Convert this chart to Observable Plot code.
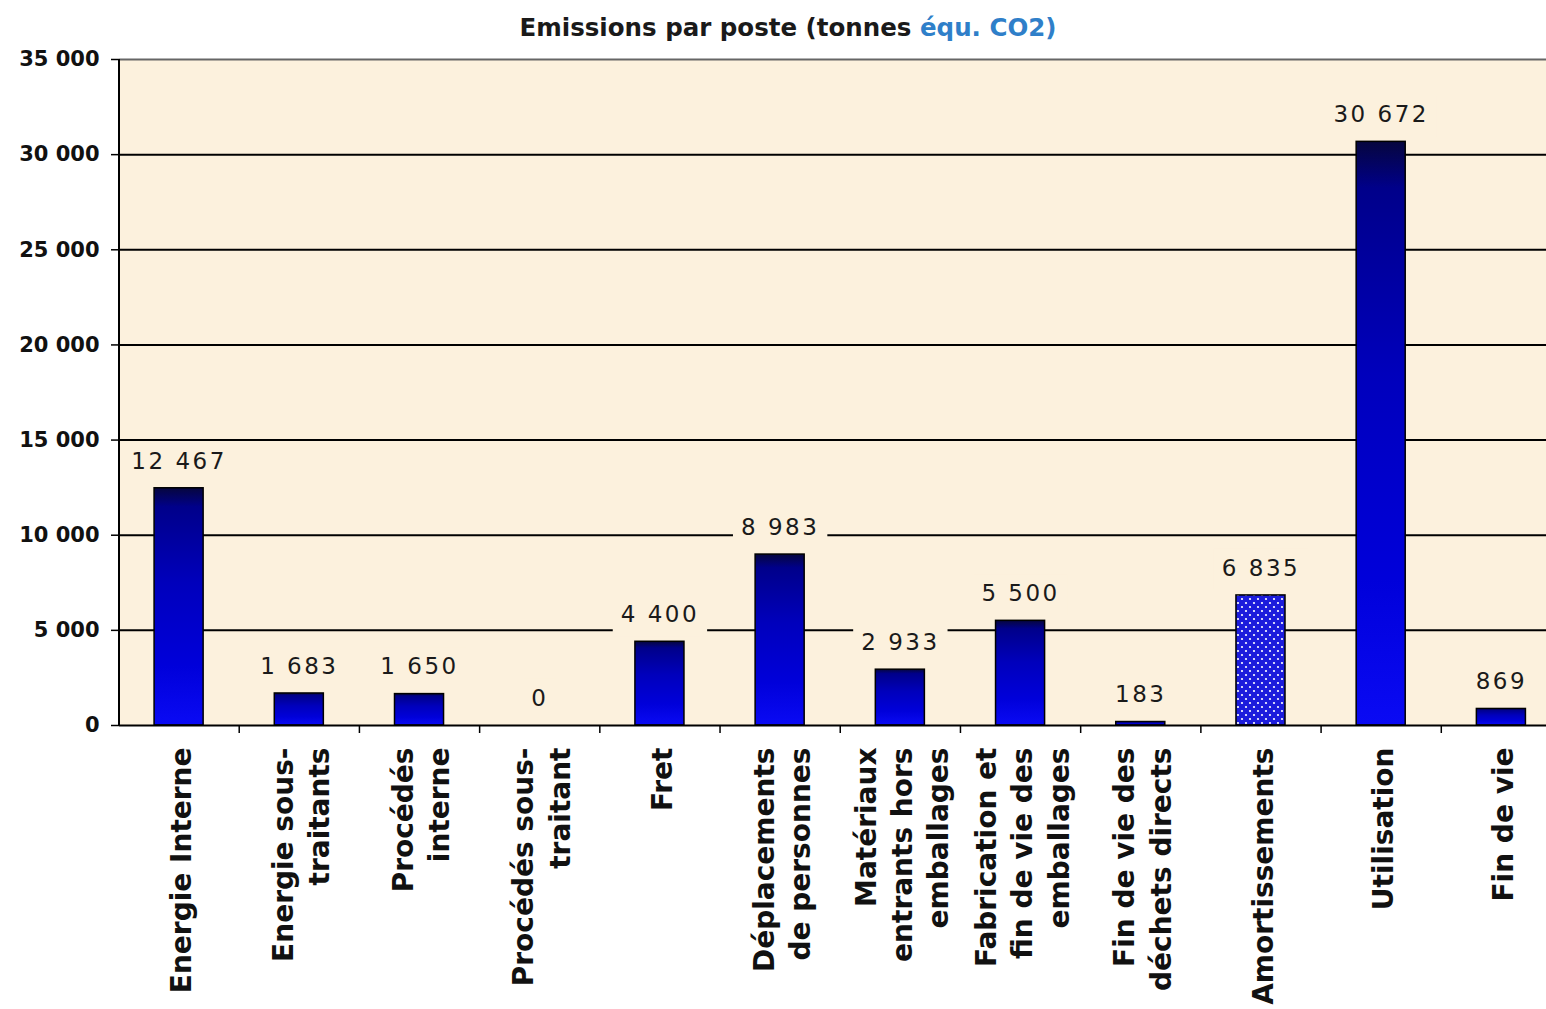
<!DOCTYPE html>
<html>
<head>
<meta charset="utf-8">
<script src="https://cdn.jsdelivr.net/npm/d3@7"></script>
<script src="https://cdn.jsdelivr.net/npm/@observablehq/plot@0.6"></script>
<style>
  html, body { margin: 0; padding: 0; background: #fff; }
  #title { position: relative; height: 45px; width: 1576px; text-align: center;
           font-family: "DejaVu Sans", sans-serif; font-weight: bold; font-size: 24.5px;
           line-height: 56px; color: #1a1a1a; white-space: nowrap; }
  #title .hl { color: #2f7fc9; }
  #chart svg g.value-labels text { letter-spacing: 2.5px; }
</style>
</head>
<body>
<div id="title">Emissions par poste (tonnes <span class="hl">équ. CO2)</span></div>
<div id="chart"></div>
<script>
// ---- data ----
const categories = [
  "Energie Interne",
  "Energie sous-\ntraitants",
  "Procédés\ninterne",
  "Procédés sous-\ntraitant",
  "Fret",
  "Déplacements\nde personnes",
  "Matériaux\nentrants hors\nemballages",
  "Fabrication et\nfin de vie des\nemballages",
  "Fin de vie des\ndéchets directs",
  "Amortissements",
  "Utilisation",
  "Fin de vie"
];
const values = [12467, 1683, 1650, 0, 4400, 8983, 2933, 5500, 183, 6835, 30672, 869];
const patternedCategories = ["Amortissements"];
const yTicks = [0, 5000, 10000, 15000, 20000, 25000, 30000, 35000];

const rows = categories.map((c, i) => ({i, cat: c, value: values[i]}));
const fmt = v => d3.format(",")(v).replace(/,/g, " ");
const centers = d3.range(categories.length).map(i => i + 0.5);
const bounds = d3.range(1, categories.length + 1);
const isPatterned = d => patternedCategories.includes(d.cat.replace(/\n/g, " "));

const bg = "#fcf1dd";
const inset = 0.296;

const plot = Plot.plot({
  width: 1546,
  height: 964,
  marginTop: 14,
  marginBottom: 284,
  marginLeft: 119,
  marginRight: 0,
  style: {fontFamily: "DejaVu Sans, sans-serif", background: "transparent", overflow: "visible"},
  x: {type: "linear", domain: [0, categories.length], range: [118.5, 1561], label: null},
  y: {domain: [0, 35000], label: null},
  marks: [
    Plot.frame({fill: bg, stroke: null}),
    Plot.ruleY(yTicks.filter(v => v > 0 && v < 35000), {stroke: "#000", strokeWidth: 2}),
    Plot.ruleY([35000], {stroke: "#666", strokeWidth: 2}),
    Plot.rectY(rows.filter(d => !isPatterned(d)), {
      x1: d => d.i + inset, x2: d => d.i + 1 - inset, y1: 0, y2: "value",
      fill: "url(#barGrad)", stroke: "#000", strokeWidth: 1.5
    }),
    Plot.rectY(rows.filter(isPatterned), {
      x1: d => d.i + inset, x2: d => d.i + 1 - inset, y1: 0, y2: "value",
      fill: "url(#dots)", stroke: "#000", strokeWidth: 1.5
    }),
    Plot.text(rows, {
      x: d => d.i + 0.5, y: "value", text: d => fmt(d.value), dy: -27,
      fontSize: 23, fill: "#1a1a1a", className: "value-labels"
    }),
    Plot.ruleX([0], {stroke: "#000", strokeWidth: 2}),
    Plot.ruleY([0], {stroke: "#000", strokeWidth: 2}),
    Plot.axisY(yTicks, {
      label: null, tickSize: 8, tickPadding: 12, tickFormat: fmt,
      fontSize: 21, fontWeight: "bold", fill: "#111", strokeWidth: 1.5, stroke: "#000"
    }),
    Plot.axisX(bounds, {label: null, tickSize: 8, tickFormat: () => "", stroke: "#000", strokeWidth: 1.5}),
    Plot.axisX(centers, {
      label: null, tickSize: 0, tickPadding: 22, tickRotate: -90,
      tickFormat: d => categories[Math.floor(d)],
      fontSize: 28, fontWeight: "bold", fill: "#111", lineHeight: 1.3
    })
  ]
});

// gradient + dotted pattern definitions
const NS = "http://www.w3.org/2000/svg";
const mk = (tag, attrs) => { const e = document.createElementNS(NS, tag); for (const k in attrs) e.setAttribute(k, attrs[k]); return e; };
const defs = mk("defs", {});
const grad = mk("linearGradient", {id: "barGrad", x1: 0, y1: 0, x2: 0, y2: 1});
[["0%", "#06063e"], ["8%", "#00008a"], ["40%", "#0000bc"], ["75%", "#0000da"], ["100%", "#0a0af4"]]
  .forEach(([o, c]) => grad.appendChild(mk("stop", {offset: o, "stop-color": c})));
defs.appendChild(grad);
const pat = mk("pattern", {id: "dots", width: 8, height: 8, patternUnits: "userSpaceOnUse"});
pat.appendChild(mk("rect", {x: 0, y: 0, width: 8, height: 8, fill: "#1c1cdc"}));
pat.appendChild(mk("circle", {cx: 2, cy: 2, r: 1.1, fill: "#fff"}));
pat.appendChild(mk("circle", {cx: 6, cy: 6, r: 1.1, fill: "#fff"}));
defs.appendChild(pat);
plot.insertBefore(defs, plot.firstChild);

document.getElementById("chart").appendChild(plot);

// background boxes behind the value labels (hide gridlines under them, like the original)
plot.querySelectorAll("g.value-labels text").forEach(t => {
  const b = t.getBBox();
  const r = mk("rect", {x: b.x - 8, y: b.y - 6, width: b.width + 16, height: b.height + 15, fill: bg});
  if (t.getAttribute("transform")) r.setAttribute("transform", t.getAttribute("transform"));
  t.parentNode.insertBefore(r, t);
});
</script>
</body>
</html>
